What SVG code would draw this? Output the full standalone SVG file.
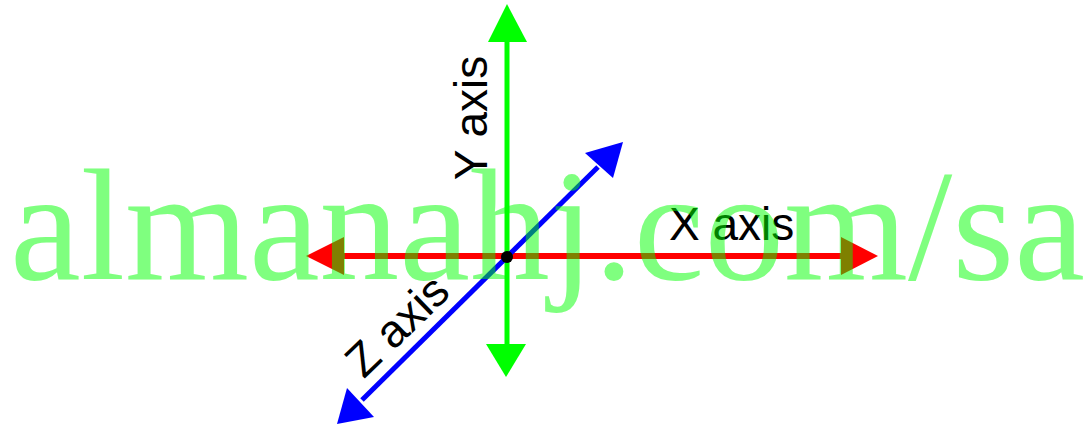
<svg xmlns="http://www.w3.org/2000/svg" width="1089" height="427" viewBox="0 0 1089 427">
<style>
.lbl{font-family:"Liberation Sans",Arial,sans-serif;font-size:46px;fill:#000}
.wm{font-family:"Liberation Serif","Times New Roman",serif;font-size:158px;fill:#00ff00;fill-opacity:0.5}
</style>
<rect width="1089" height="427" fill="#fff"/>
<g id="connectors">
<g id="x-axis">
<line x1="340" y1="256" x2="845" y2="256" stroke="#ff0000" stroke-width="6"/>
<polygon points="306,256 344,237 344,275" fill="#ff0000"/>
<polygon points="878,256 841,237 841,275" fill="#ff0000"/>
</g>
<g id="y-axis">
<line x1="507" y1="38" x2="507" y2="348" stroke="#00ff00" stroke-width="5"/>
<polygon points="507,4 488,42 527,42" fill="#00ff00"/>
<polygon points="506,377 486,344 526,344" fill="#00ff00"/>
</g>
<g id="z-axis">
<line x1="362" y1="400" x2="598" y2="167" stroke="#0000ff" stroke-width="5"/>
<polygon points="623,142 585,153 613,178" fill="#0000ff"/>
<polygon points="337,424 347,388 374,417" fill="#0000ff"/>
</g>
</g>
<g id="origin">
<circle cx="507" cy="257" r="6" fill="#000"/>
</g>
<g id="x-label"><text class="lbl" x="669" y="240">X axis</text></g>
<g id="y-label"><text class="lbl" text-anchor="middle" transform="translate(487,118) rotate(-90)">Y axis</text></g>
<g id="z-label"><text class="lbl" text-anchor="middle" transform="translate(408,337) rotate(-44)">Z axis</text></g>
<g id="watermark"><text class="wm" x="10" y="279" textLength="1075" lengthAdjust="spacingAndGlyphs">almanahj.com/sa</text></g>
</svg>
